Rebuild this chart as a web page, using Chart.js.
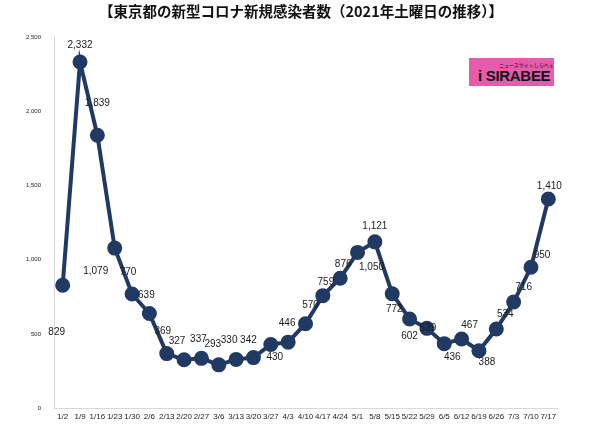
<!DOCTYPE html>
<html>
<head>
<meta charset="utf-8">
<script src="https://cdn.jsdelivr.net/npm/chart.js@4.4.1/dist/chart.umd.min.js"></script>
<style>
  html, body { margin: 0; padding: 0; background: #fff; }
  #wrap { position: relative; width: 600px; height: 425px; }
  #title {
    position: absolute; left: 0; top: 2px; width: 602px; text-align: center;
    font-family: "Noto Sans CJK JP", sans-serif; font-size: 14.5px; font-weight: bold; color: #111; line-height: 18px;
  }
  #logo {
    position: absolute; left: 469px; top: 58px; width: 85px; height: 28px;
    background: #e85aab; font-family: "Liberation Sans", Arial, sans-serif;
  }
  #logo .big { position: absolute; left: 9px; top: 9px; font-size: 15px; font-weight: bold; color: #111; letter-spacing: -0.3px; }
  #logo .small { position: absolute; left: 30px; top: 3px; font-size: 5px; color: #111; font-family: "Noto Sans CJK JP", sans-serif; }
</style>
</head>
<body>
<div id="wrap">
  <canvas id="covidChart" width="600" height="425"></canvas>
  <div id="title">【東京都の新型コロナ新規感染者数（2021年土曜日の推移）】</div>
  <div id="logo"><span class="small">ニュースサイトしらべぇ</span><span class="big">i SIRABEE</span></div>
</div>
<script>
const weeks = ['1/2', '1/9', '1/16', '1/23', '1/30', '2/6', '2/13', '2/20', '2/27', '3/6', '3/13', '3/20', '3/27', '4/3',
  '4/10', '4/17', '4/24', '5/1', '5/8', '5/15', '5/22', '5/29', '6/5', '6/12', '6/19', '6/26', '7/3', '7/10', '7/17'];
const cases = [829, 2332, 1839, 1079, 770, 639, 369, 327, 337, 293, 330, 342, 430, 446,
  570, 759, 876, 1050, 1121, 772, 602, 539, 436, 467, 388, 534, 716, 950, 1410];
const yTicks = [0, 500, 1000, 1500, 2000, 2500];

// where each value label sits relative to its point (px)
const labelShift = [[-6, 47], [0, -17], [0, -32], [-19, 23], [-4, -22], [-3, -18], [-4, -22], [-7, -19], [-3, -19], [-6, -21],
  [-7, -19], [-5, -17], [4, 13], [-1, -19], [5, -18], [3, -13], [3, -14], [14, 15], [0, -16], [2, 16],
  [0, 17], [1, 0], [8, 14], [8, -14], [8, 11], [9, -15], [10, -15], [11, -12], [1, -13]];

const navy = '#213a63';

const valueLabels = {
  id: 'valueLabels',
  afterDatasetsDraw(chart) {
    const ctx = chart.ctx;
    const meta = chart.getDatasetMeta(0);
    ctx.save();
    ctx.font = '10px "Liberation Sans", Arial, sans-serif';
    ctx.fillStyle = '#1a1a1a';
    ctx.textAlign = 'center';
    ctx.textBaseline = 'middle';
    meta.data.forEach((pt, i) => {
      const s = labelShift[i];
      ctx.fillText(cases[i].toLocaleString('en-US'), pt.x + s[0], pt.y + s[1]);
    });
    ctx.restore();
  }
};

new Chart(document.getElementById('covidChart').getContext('2d'), {
  type: 'line',
  data: {
    labels: weeks,
    datasets: [{
      data: cases,
      borderColor: navy,
      backgroundColor: navy,
      borderWidth: 4,
      pointRadius: 5.5,
      pointHoverRadius: 5.5,
      pointBackgroundColor: navy,
      pointBorderColor: navy,
      tension: 0
    }]
  },
  options: {
    responsive: false,
    animation: false,
    layout: { padding: { left: 0, right: 43, top: 37, bottom: 0 } },
    plugins: {
      legend: { display: false },
      tooltip: { enabled: false }
    },
    scales: {
      x: {
        offset: true,
        grid: { display: false, drawTicks: false },
        border: { color: '#d8d8d8', width: 1 },
        ticks: {
          autoSkip: false, maxRotation: 0, minRotation: 0, padding: 4,
          color: '#222',
          font: { family: '"Liberation Sans", Arial, sans-serif', size: 8 }
        },
        afterFit(scale) { scale.height = 16; }
      },
      y: {
        min: 0, max: 2500,
        afterBuildTicks(scale) { scale.ticks = yTicks.map(v => ({ value: v })); },
        grid: { display: false, drawTicks: false },
        border: { color: '#d8d8d8', width: 1 },
        ticks: {
          padding: 13,
          color: '#222',
          font: { family: '"Liberation Sans", Arial, sans-serif', size: 6 },
          callback: v => v.toLocaleString('en-US')
        },
        afterFit(scale) { scale.width = 54; }
      }
    }
  },
  plugins: [valueLabels]
});
</script>
</body>
</html>
